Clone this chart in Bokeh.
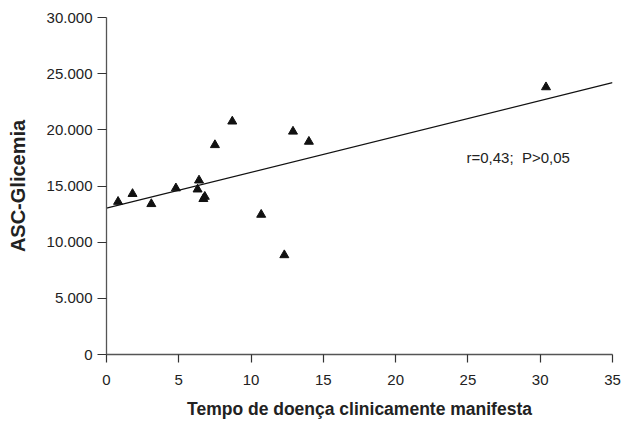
from bokeh.plotting import figure
from bokeh.models import Range1d, FixedTicker
from bokeh.core.properties import value
from bokeh.embed import file_html
from bokeh.resources import INLINE

# Data
tempo = [0.8, 1.8, 3.1, 4.8, 6.3, 6.4, 6.7, 6.8, 7.5, 8.7, 10.7, 12.3, 12.9, 14.0, 30.4]
asc = [13600, 14300, 13400, 14800, 14700, 15500, 13850, 14050, 18650, 20750, 12450, 8850, 19850, 18950, 23800]

fit_x = [0, 35]
fit_y = [13030, 24200]

x_ticks = [0, 5, 10, 15, 20, 25, 30, 35]
y_ticks = [0, 5000, 10000, 15000, 20000, 25000, 30000]
y_tick_labels = ["0", "5.000", "10.000", "15.000", "20.000", "25.000", "30.000"]

annot_text = ["r=0,43;\u00a0 P>0,05"]
annot_x = [24.9]
annot_y = [17520]

FONT = "Liberation Sans"

p = figure(width=621, height=421, output_backend="svg", toolbar_location=None,
           x_range=Range1d(0, 35), y_range=Range1d(0, 30000),
           min_border_left=106, min_border_right=9, min_border_top=17, min_border_bottom=65)
p.outline_line_color = None
p.xgrid.grid_line_color = None
p.ygrid.grid_line_color = None
p.background_fill_color = "white"
p.border_fill_color = "white"

for ax in (p.xaxis[0], p.yaxis[0]):
    ax.axis_line_color = "#555555"
    ax.axis_line_width = 1.3
    ax.major_tick_line_color = "#333333"
    ax.major_tick_line_width = 1.2
    ax.major_tick_in = 0
    ax.minor_tick_line_color = None
    ax.major_label_text_font = FONT
    ax.major_label_text_font_size = "15px"
    ax.major_label_text_color = "#222222"
    ax.axis_label_text_font = FONT
    ax.axis_label_text_font_style = "bold"
    ax.axis_label_text_color = "#222222"

p.xaxis.ticker = FixedTicker(ticks=x_ticks)
p.yaxis.ticker = FixedTicker(ticks=y_ticks)
p.yaxis.major_label_overrides = {t: l for t, l in zip(y_ticks, y_tick_labels)}
p.xaxis.major_tick_out = 8
p.yaxis.major_tick_out = 9
p.xaxis.major_label_standoff = 12
p.yaxis.major_label_standoff = 5

p.xaxis.axis_label = "Tempo de doença clinicamente manifesta"
p.yaxis.axis_label = "ASC-Glicemia"
p.xaxis.axis_label_text_font_size = "17.5px"
p.yaxis.axis_label_text_font_size = "20px"
p.xaxis.axis_label_standoff = 11
p.yaxis.axis_label_standoff = 15

p.line(fit_x, fit_y, line_color="#111111", line_width=1.2)
p.scatter(tempo, asc, marker="triangle", size=9, fill_color="#111111", line_color="#111111")

p.text(x=annot_x, y=annot_y, text=annot_text, text_font=value(FONT),
       text_font_size="15px", text_align="left", text_baseline="middle", text_color="#222222")

open("out.html", "w").write(file_html(p, INLINE))
